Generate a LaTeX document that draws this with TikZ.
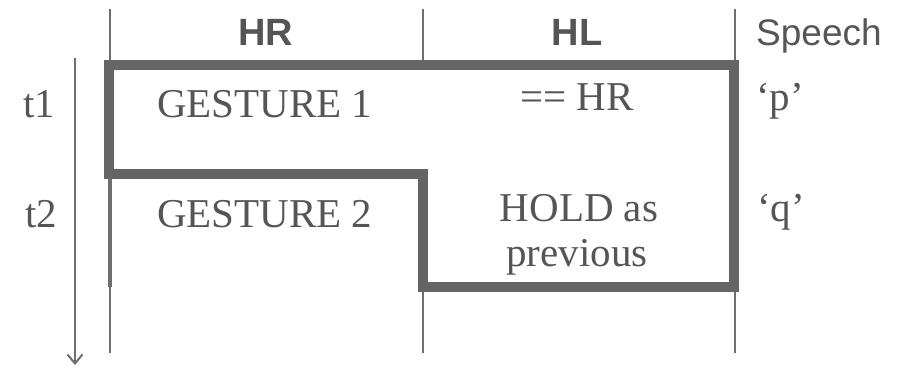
\documentclass[tikz,border=0pt]{standalone}
\usepackage{fontspec}
\setmainfont{Liberation Serif}
\newfontfamily\hsans{Liberation Sans}
\usetikzlibrary{arrows.meta}
\definecolor{txt}{HTML}{555555}
\definecolor{ln}{HTML}{6E6E6E}
\definecolor{thk}{HTML}{656565}
\tikzset{
  serif/.style={inner sep=0pt, text=txt, font=\fontsize{41}{44}\selectfont},
  head/.style={inner sep=0pt, text=txt, font=\hsans\bfseries\fontsize{38}{40}\selectfont},
  headr/.style={inner sep=0pt, text=txt, font=\hsans\fontsize{37}{40}\selectfont},
  thin/.style={draw=ln, line width=2.6pt},
  thick/.style={draw=thk, line width=10pt, line join=miter},
}
\begin{document}
\begin{tikzpicture}[x=1pt,y=-1pt]
\useasboundingbox (0,0) rectangle (908,368);
% column lines
\coordinate (c1t) at (110,9);  \coordinate (c1m) at (110,174); \coordinate (c1n) at (110,287); \coordinate (c1b) at (110,353);
\coordinate (c2t) at (423,9);  \coordinate (c2m) at (423,65);  \coordinate (c2n) at (423,174); \coordinate (c2b) at (423,353);
\coordinate (c3t) at (735,9);  \coordinate (c3b) at (735,353);
\draw[thin] (c1t) -- (c1b);
\draw[thin, line width=4.5pt] (c1m) -- (c1n);
\draw[thin] (c2t) -- (c2m);
\draw[thin] (c2n) -- (c2b);
\draw[thin] (c3t) -- (c3b);
% time arrow
\coordinate (ta) at (75,58); \coordinate (tb) at (75,365);
\draw[thin, line width=2.2pt, -{Straight Barb[length=9pt,width=15pt,line width=2pt]}] (ta) -- (tb);
% thick outline
\coordinate (o1) at (109,65); \coordinate (o2) at (734,65);
\coordinate (o3) at (734,287); \coordinate (o4) at (423,287);
\coordinate (o5) at (423,174); \coordinate (o6) at (109,174);
\draw[thick] (o1) -- (o2) -- (o3) -- (o4) -- (o5) -- (o6) -- cycle;
% headers
\node[head, anchor=base] (hr) at (266,45) {HR};
\node[head, anchor=base] (hl) at (577,45) {HL};
\node[headr, anchor=base west] (sp) at (756,45) {Speech};
% row 1
\node[serif, anchor=base] (t1) at (39,117) {t1};
\node[serif, anchor=base west] (g1) at (157,117) {GESTURE 1};
\node[serif, anchor=base] (eq) at (577,110) {== HR};
\node[serif, anchor=base west] (p) at (756,110) {‘p’};
% row 2
\node[serif, anchor=base] (t2) at (41,227) {t2};
\node[serif, anchor=base west] (g2) at (157,227) {GESTURE 2};
\node[serif, anchor=base] (hold) at (579,221) {HOLD as};
\node[serif, anchor=base] (prev) at (577,266) {previous};
\node[serif, anchor=base west] (q) at (757,221) {‘q’};
\end{tikzpicture}
\end{document}
